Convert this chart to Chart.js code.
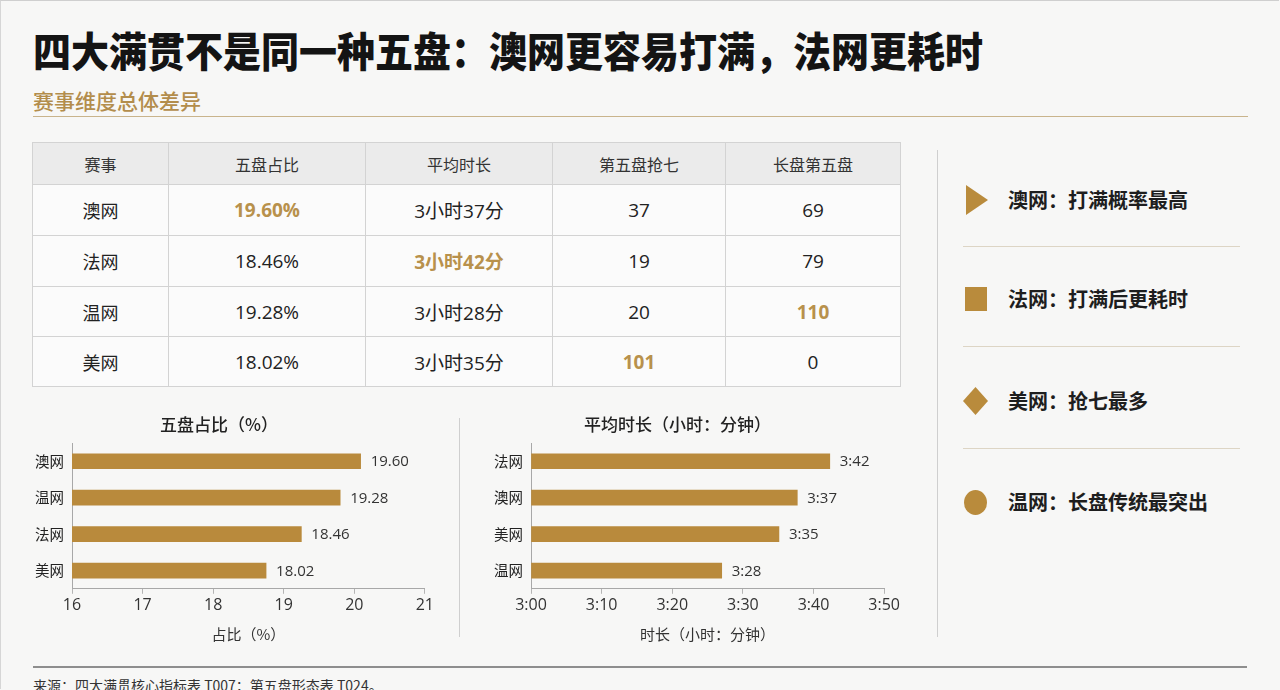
<!DOCTYPE html>
<html lang="zh-CN">
<head>
<meta charset="UTF-8">
<title>四大满贯五盘对比</title>
<script src="https://cdn.jsdelivr.net/npm/chart.js"></script>
<style>
  html, body { margin: 0; padding: 0; }
  body {
    width: 1280px; height: 690px; overflow: hidden; position: relative;
    background: #f7f7f6;
    font-family: "Open Sans", "Noto Sans CJK SC", sans-serif;
    color: #222;
  }
  .frame { position: absolute; left: 0; top: 0; width: 1279px; height: 689px;
    border-top: 1px solid #cfcfcf; border-left: 1px solid #d6d6d6; box-sizing: border-box; }
  .title { position: absolute; left: 33px; top: 31px; font-size: 38px; line-height: 38px;
    font-weight: 900; font-family: "Noto Sans CJK SC", sans-serif; color: #141414;
    white-space: nowrap; transform: scaleY(1.09); transform-origin: left center; }
  .subtitle { position: absolute; left: 33px; top: 89px; font-size: 21px; line-height: 22px;
    font-weight: 500; font-family: "Noto Sans CJK SC", sans-serif; color: #b38d4c; }
  .rule-gold { position: absolute; left: 33px; top: 116px; width: 1215px; height: 0;
    border-top: 1.5px solid #c9b48c; }
  table.stats { position: absolute; left: 32px; top: 142px; border-collapse: collapse;
    table-layout: fixed; width: 868px; }
  table.stats td, table.stats th { border: 1px solid #d3d3d3; text-align: center; padding: 0; }
  table.stats th { height: 41px; background: #ebebeb; font-weight: 400; font-size: 16px;
    color: #333; font-family: "Noto Sans CJK SC", sans-serif; }
  table.stats td { background: #fbfbfb; font-size: 19px; color: #222; }
  table.stats td.ev { font-family: "Noto Sans CJK SC", sans-serif; font-size: 18px; font-weight: 400; }
  table.stats td.hi { color: #b8914c; font-weight: 700; }
  .vline { position: absolute; width: 0; border-left: 1px solid #cfcfcf; }
  .hline { position: absolute; height: 0; }
  .note { position: absolute; left: 1008px; font-size: 20px; line-height: 24px; font-weight: 700;
    font-family: "Noto Sans CJK SC", sans-serif; color: #1e1e1e; white-space: nowrap; }
  .chart-box { position: absolute; }
  .source { position: absolute; left: 33px; top: 675px; font-size: 14px; line-height: 20px;
    font-family: "Noto Sans CJK SC", sans-serif; color: #333; white-space: nowrap; }
</style>
</head>
<body>
<div class="frame"></div>
<div class="title">四大满贯不是同一种五盘：澳网更容易打满，法网更耗时</div>
<div class="subtitle">赛事维度总体差异</div>
<div class="rule-gold"></div>

<table class="stats" id="statsTable"></table>

<div class="vline" style="left:937px; top:150px; height:487px;"></div>
<div class="vline" style="left:459px; top:418px; height:219px;"></div>

<svg style="position:absolute; left:940px; top:140px;" width="340" height="400">
  <polygon points="26,45 48,60 26,75" fill="#b98b3c"/>
  <rect x="25" y="147" width="22" height="24" fill="#b98b3c"/>
  <polygon points="35.5,247 48,261 35.5,275 23,261" fill="#b98b3c"/>
  <ellipse cx="35.5" cy="362.5" rx="11.5" ry="12.5" fill="#b98b3c"/>
</svg>
<div id="notes"></div>
<div class="hline" style="left:963px; top:246px; width:277px; border-top:1px solid #ddd5c5;"></div>
<div class="hline" style="left:963px; top:346px; width:277px; border-top:1px solid #ddd5c5;"></div>
<div class="hline" style="left:963px; top:448px; width:277px; border-top:1px solid #ddd5c5;"></div>

<div class="chart-box" style="left:10px; top:404px; width:426px; height:243px;">
  <canvas id="shareChart"></canvas>
</div>
<div class="chart-box" style="left:467px; top:404px; width:435px; height:243px;">
  <canvas id="durationChart"></canvas>
</div>

<div class="hline" style="left:33px; top:666px; width:1214px; border-top:2px solid #8e8e8e;"></div>
<div class="source">来源：四大满贯核心指标表 T007；第五盘形态表 T024。</div>

<script>
// ---- table data ----
const tableHeaders = ['赛事', '五盘占比', '平均时长', '第五盘抢七', '长盘第五盘'];
const tableEvents = ['澳网', '法网', '温网', '美网'];
const fifthSetShare = [19.60, 18.46, 19.28, 18.02];
const avgDurationText = ['3小时37分', '3小时42分', '3小时28分', '3小时35分'];
const avgDurationMin = [217, 222, 208, 215];
const fifthSetTiebreaks = [37, 19, 20, 101];
const longFifthSets = [69, 79, 110, 0];

// ---- left bar chart: 五盘占比 ----
const shareCats = ['澳网', '温网', '法网', '美网'];
const shareBars = [20.09, 19.80, 19.25, 18.75];   // bar ends as drawn
const shareLabels = ['19.60', '19.28', '18.46', '18.02'];

// ---- right bar chart: 平均时长 (minutes past 3:00) ----
const durationCats = ['法网', '澳网', '美网', '温网'];
const durationBars = [42.3, 37.7, 35.1, 27.0];
const durationLabels = ['3:42', '3:37', '3:35', '3:28'];

// ---- side notes ----
const noteTexts = ['澳网：打满概率最高', '法网：打满后更耗时', '美网：抢七最多', '温网：长盘传统最突出'];
const noteCenters = [200, 299, 401, 502];

const GOLD = '#b98a3c';

// build table, highlight column maximum
const table = document.getElementById('statsTable');
const colWidths = [136, 197, 187, 173, 175];
let html = '<colgroup>' + colWidths.map(w => `<col style="width:${w}px">`).join('') + '</colgroup>';
html += '<tr>' + tableHeaders.map(h => `<th>${h}</th>`).join('') + '</tr>';
const rowHeights = [51, 51, 50, 50];
const maxShare = Math.max(...fifthSetShare);
const maxDur = Math.max(...avgDurationMin);
const maxTb = Math.max(...fifthSetTiebreaks);
const maxLong = Math.max(...longFifthSets);
tableEvents.forEach((ev, i) => {
  const cls = (v, m) => v === m ? ' class="hi"' : '';
  html += `<tr style="height:${rowHeights[i]}px">`
    + `<td class="ev">${ev}</td>`
    + `<td${cls(fifthSetShare[i], maxShare)}>${fifthSetShare[i].toFixed(2)}%</td>`
    + `<td${cls(avgDurationMin[i], maxDur)}>${avgDurationText[i]}</td>`
    + `<td${cls(fifthSetTiebreaks[i], maxTb)}>${fifthSetTiebreaks[i]}</td>`
    + `<td${cls(longFifthSets[i], maxLong)}>${longFifthSets[i]}</td>`
    + '</tr>';
});
table.innerHTML = html;

// notes
const notes = document.getElementById('notes');
noteTexts.forEach((t, i) => {
  const d = document.createElement('div');
  d.className = 'note';
  d.style.top = (noteCenters[i] - 12) + 'px';
  d.textContent = t;
  notes.appendChild(d);
});

// value labels at bar ends
const barEndLabels = {
  id: 'barEndLabels',
  afterDatasetsDraw(chart, args, opts) {
    const { ctx } = chart;
    const meta = chart.getDatasetMeta(0);
    ctx.save();
    ctx.font = '15px "Open Sans", "Noto Sans CJK SC", sans-serif';
    ctx.fillStyle = '#333';
    ctx.textBaseline = 'middle';
    ctx.textAlign = 'left';
    meta.data.forEach((bar, i) => {
      ctx.fillText(opts.texts[i], bar.x + 10, bar.y + 1);
    });
    ctx.restore();
  }
};

Chart.defaults.font.family = '"Open Sans", "Noto Sans CJK SC", sans-serif';
Chart.defaults.color = '#333';

function makeBarChart(id, cats, values, texts, title, axisTitle, xOpts, yWidth, padRight) {
  return new Chart(document.getElementById(id), {
    type: 'bar',
    data: {
      labels: cats,
      datasets: [{ data: values, backgroundColor: GOLD, barThickness: 15, borderWidth: 0 }]
    },
    options: {
      indexAxis: 'y',
      responsive: true,
      maintainAspectRatio: false,
      animation: false,
      layout: { padding: { left: 0, right: padRight, top: 0, bottom: 0 } },
      plugins: {
        legend: { display: false },
        tooltip: { enabled: false },
        title: {
          display: true, text: title, color: '#222',
          font: { size: 17, weight: '500', family: '"Noto Sans CJK SC", sans-serif' },
          padding: { top: 10, bottom: 8.6 }
        },
        barEndLabels: { texts: texts }
      },
      scales: {
        x: Object.assign({
          grid: { drawOnChartArea: false, drawTicks: true, tickLength: 5, color: '#b5b5b5' },
          border: { display: true, color: '#a8a8a8', width: 1 },
          title: {
            display: true, text: axisTitle, color: '#333',
            font: { size: 15, family: '"Noto Sans CJK SC", sans-serif' },
            padding: { top: 8, bottom: 4 }
          }
        }, xOpts),
        y: {
          grid: { display: false, drawTicks: false },
          border: { display: true, color: '#a8a8a8', width: 1 },
          ticks: { font: { size: 14.5, family: '"Noto Sans CJK SC", sans-serif' }, color: '#222', padding: 8 },
          afterFit(scale) { scale.width = yWidth; }
        }
      }
    },
    plugins: [barEndLabels]
  });
}

makeBarChart('shareChart', shareCats, shareBars, shareLabels,
  '五盘占比（%）', '占比（%）',
  { min: 16, max: 21, ticks: { stepSize: 1, font: { size: 16 }, color: '#333', padding: 2, maxRotation: 0 } },
  62, 8);

makeBarChart('durationChart', durationCats, durationBars, durationLabels,
  '平均时长（小时：分钟）', '时长（小时：分钟）',
  { min: 0, max: 50, ticks: { stepSize: 10, font: { size: 16 }, color: '#333', padding: 2, maxRotation: 0,
      callback: v => '3:' + String(v).padStart(2, '0') } },
  64, 14);
</script>
</body>
</html>
